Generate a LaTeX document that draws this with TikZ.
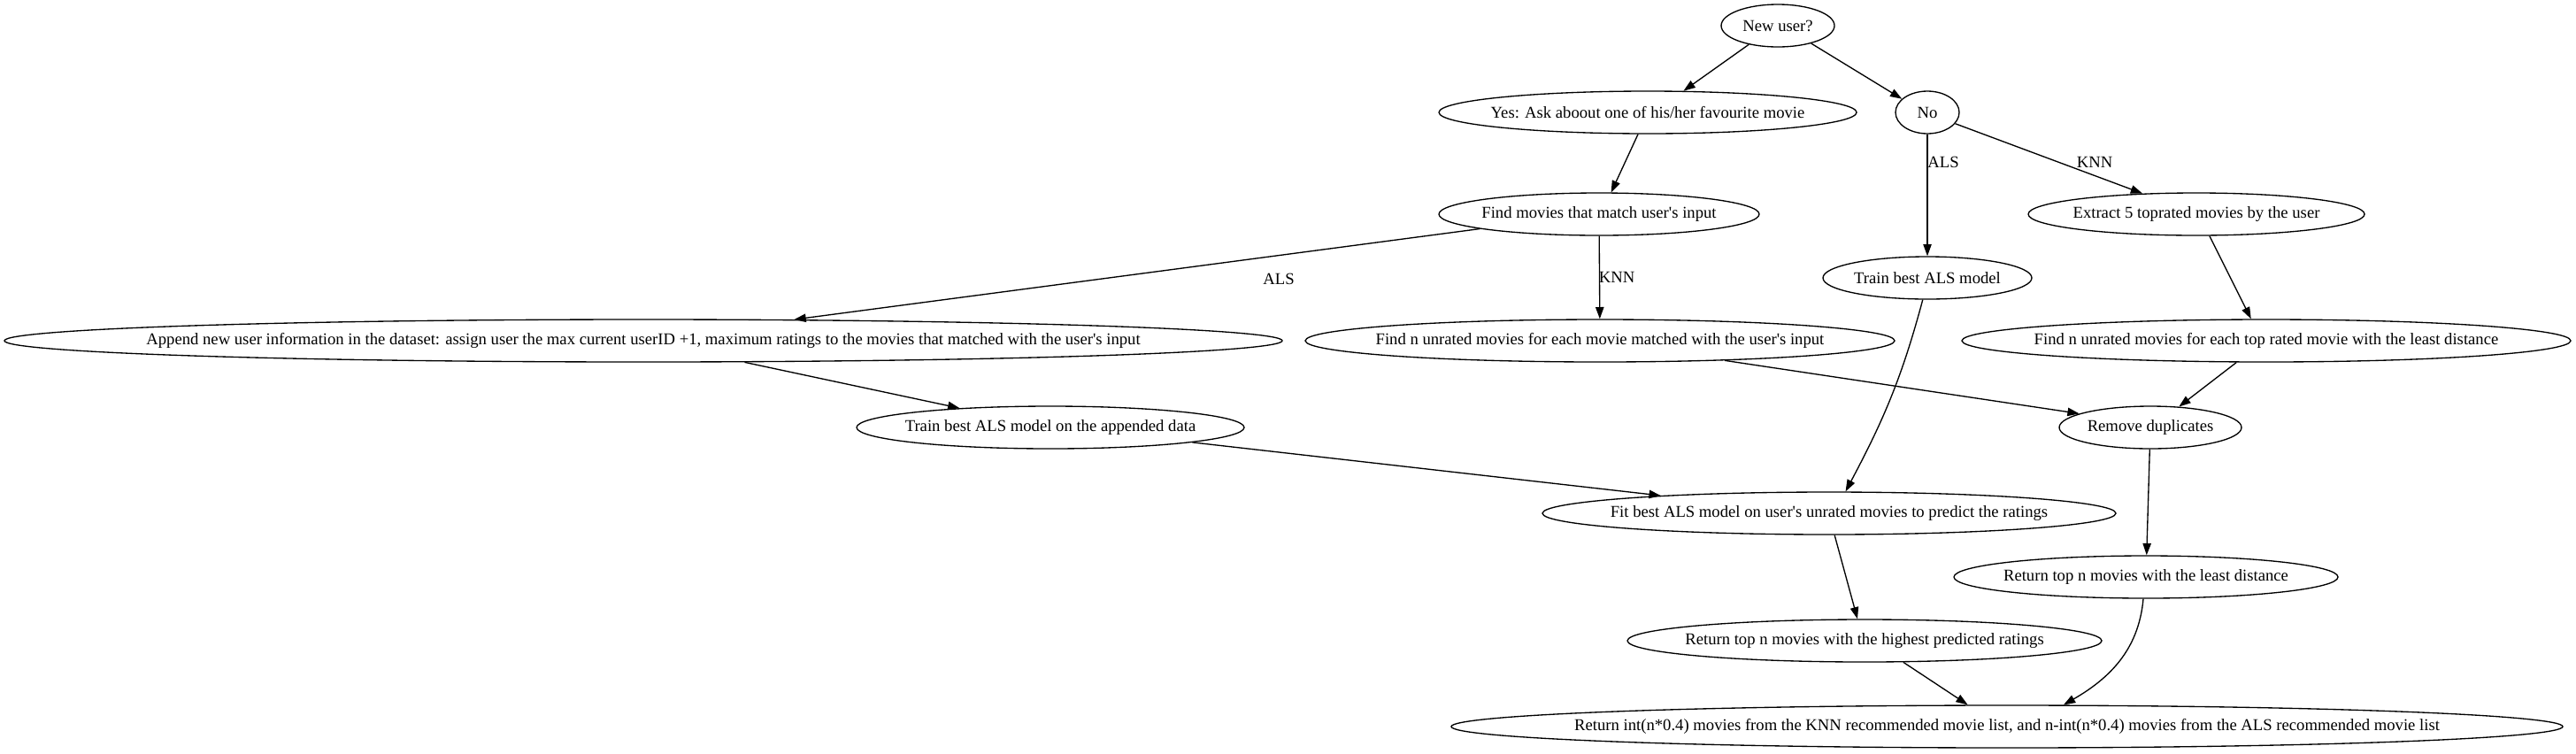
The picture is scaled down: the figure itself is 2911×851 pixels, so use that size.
\documentclass[tikz,border=0pt]{standalone}
\usepackage{fontspec}
\setmainfont{Liberation Serif}[Ligatures=TeXOff]
\usetikzlibrary{arrows.meta,shapes.geometric}
\newcommand{\vtext}[1]{\makebox[0pt]{#1}}
\tikzset{
  vx/.style={draw, ellipse, inner sep=0pt, minimum height=36pt, line width=1pt},
  arr/.style={-{Triangle[length=10pt,width=7pt]}, line width=1pt},
  lbl/.style={inner sep=0pt}
}
\begin{document}
\begin{tikzpicture}[x=0.75pt,y=-0.75pt,font=\fontsize{14}{17}\selectfont]
		\useasboundingbox (0,0) rectangle (2911,851);
		% vertices
		\node[vx, minimum width=96pt] (newuser) at (2009,29) {\vtext{New user?}};
		\node[vx, minimum width=354pt] (yes) at (1862,127) {\vtext{Yes: Ask aboout one of his/her favourite movie}};
		\node[vx, minimum width=54pt] (no) at (2178,127) {\vtext{No}};
		\node[vx, minimum width=271.5pt] (findmatch) at (1807,242) {\vtext{Find movies that match user's input}};
		\node[vx, minimum width=285pt] (extract) at (2482,242) {\vtext{Extract 5 toprated movies by the user}};
		\node[vx, minimum width=177pt] (trainals) at (2178,314) {\vtext{Train best ALS model}};
		\node[vx, minimum width=1083pt] (append) at (727,385) {\vtext{Append new user information in the dataset: assign user the max current userID +1, maximum ratings to the movies that matched with the user's input}};
		\node[vx, minimum width=499.5pt] (findunrated) at (1808,385) {\vtext{Find n unrated movies for each movie matched with the user's input}};
		\node[vx, minimum width=516pt] (findtop) at (2561,385) {\vtext{Find n unrated movies for each top rated movie with the least distance}};
		\node[vx, minimum width=328.5pt] (trainapp) at (1187,483) {\vtext{Train best ALS model on the appended data}};
		\node[vx, minimum width=154.5pt] (remdup) at (2430,483) {\vtext{Remove duplicates}};
		\node[vx, minimum width=486pt] (fit) at (2067,580) {\vtext{Fit best ALS model on user's unrated movies to predict the ratings}};
		\node[vx, minimum width=325.5pt] (retleast) at (2425,652) {\vtext{Return top n movies with the least distance}};
		\node[vx, minimum width=402pt] (rethigh) at (2107,724) {\vtext{Return top n movies with the highest predicted ratings}};
		\node[vx, minimum width=942pt] (retfinal) at (2268,821) {\vtext{Return int(n*0.4) movies from the KNN recommended movie list, and n-int(n*0.4) movies from the ALS recommended movie list}};
		% edge labels
		\node[lbl] (alsyes) at (1445,315) {ALS};
		\node[lbl] (knnyes) at (1827,313) {KNN};
		\node[lbl] (alsno) at (2196,183) {ALS};
		\node[lbl] (knnno) at (2367,183) {KNN};
		% edges
		\draw[arr] (newuser.213) -- (yes.31);
		\draw[arr] (newuser.332) -- (no.152);
		\draw[arr] (yes.246) -- (findmatch.61);
		\draw[arr] (no) -- (trainals);
		\draw[arr] (no.338) -- (extract.159);
		\draw[arr] (findmatch.187) -- (append.8);
		\draw[arr] (findmatch) -- (findunrated);
		\draw[arr] (extract.301) -- (findtop.125);
		\draw[arr] (append.348) -- (trainapp.168);
		\draw[arr] (findunrated.351) -- (remdup.169);
		\draw[arr] (findtop.216) -- (remdup.36);
		\draw[arr] (trainapp.354) -- (fit.174);
		\draw[arr] (trainals.258) to[out=255,in=62] (fit.53);
		\draw[arr] (remdup) -- (retleast);
		\draw[arr] (fit.284) -- (rethigh.108);
		\draw[arr] (rethigh.331) -- (retfinal.151);
		\draw[arr] (retleast.263) to[out=265,in=30] (retfinal.21);
  \end{tikzpicture}
\end{document}
